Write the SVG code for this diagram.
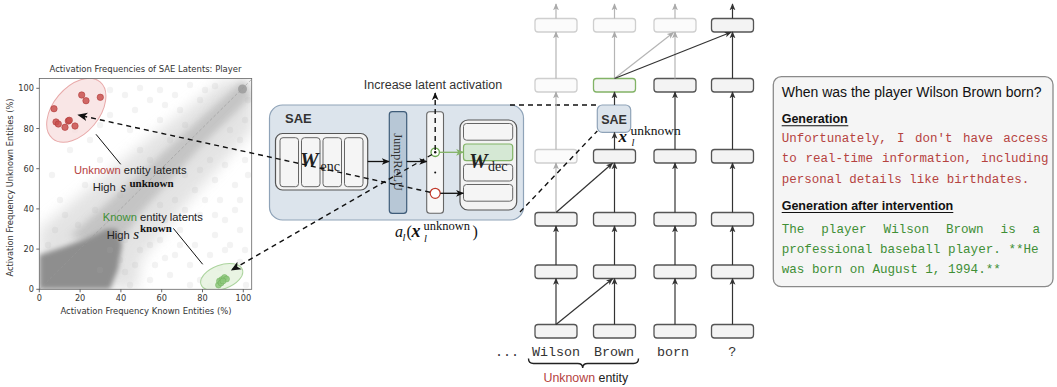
<svg xmlns="http://www.w3.org/2000/svg" width="1057" height="387" viewBox="0 0 1057 387">
<defs>
<style>
.tick{font-family:"DejaVu Sans",sans-serif;font-size:8.2px;fill:#333}
.sans{font-family:"Liberation Sans",Arial,sans-serif}
.serif{font-family:"Liberation Serif","Times New Roman",serif}
.mono{font-family:"Liberation Mono","Courier New",monospace}
.blk{fill:#f3f3f3;stroke:#555;stroke-width:1.3}
.fad{fill:#fbfbfb;stroke:#cfcfcf;stroke-width:1.3}
.a-dark{stroke:#333;stroke-width:1.2;fill:none;marker-end:url(#hd)}
.a-fad{stroke:#b5b5b5;stroke-width:1.2;fill:none;marker-end:url(#hf)}
.a-blk{stroke:#111;stroke-width:1.3;fill:none;marker-end:url(#hb)}
.dash{stroke:#111;stroke-width:1.4;stroke-dasharray:5 4;fill:none}
.pt{fill:#b0b0b0;fill-opacity:.15}
.rdot{fill:#c9504e;fill-opacity:.85;stroke:#b03c3a;stroke-width:.6}
.gdot{fill:#8cc77a;fill-opacity:.85;stroke:#6fb05c;stroke-width:.5}
.red{fill:#b5433f}
.grn{fill:#3f8f35}
</style>
<marker id="hd" viewBox="0 0 10 10" refX="9" refY="5" markerWidth="7" markerHeight="7" orient="auto" markerUnits="userSpaceOnUse"><path d="M0,0.8 L10,5 L0,9.2 L2.6,5 z" fill="#333"/></marker>
<marker id="hf" viewBox="0 0 10 10" refX="9" refY="5" markerWidth="7" markerHeight="7" orient="auto" markerUnits="userSpaceOnUse"><path d="M0,0.8 L10,5 L0,9.2 L2.6,5 z" fill="#aaa"/></marker>
<marker id="hb" viewBox="0 0 10 10" refX="9" refY="5" markerWidth="8" markerHeight="8" orient="auto" markerUnits="userSpaceOnUse"><path d="M0,0.8 L10,5 L0,9.2 L2.6,5 z" fill="#111"/></marker>
<marker id="hg" viewBox="0 0 10 10" refX="9" refY="5" markerWidth="8" markerHeight="8" orient="auto" markerUnits="userSpaceOnUse"><path d="M0,0.8 L10,5 L0,9.2 L2.6,5 z" fill="#82b366"/></marker>
<marker id="hx" viewBox="0 0 10 10" refX="9" refY="5" markerWidth="10" markerHeight="10" orient="auto" markerUnits="userSpaceOnUse"><path d="M0,0.8 L10,5 L0,9.2 L2.6,5 z" fill="#111"/></marker>
<filter id="b8" x="-30%" y="-30%" width="160%" height="160%"><feGaussianBlur stdDeviation="7"/></filter>
<filter id="b3" x="-30%" y="-30%" width="160%" height="160%"><feGaussianBlur stdDeviation="3.5"/></filter>
<filter id="b1" x="-30%" y="-30%" width="160%" height="160%"><feGaussianBlur stdDeviation="2.4"/></filter>
<clipPath id="plotclip"><rect x="39.3" y="78.5" width="212.4" height="210.8"/></clipPath>
</defs>

<rect width="1057" height="387" fill="#fff"/>

<!-- scatter plot of latent activation frequencies -->
<g id="scatter">
  <text class="tick" x="145.5" y="72" text-anchor="middle" textLength="192" lengthAdjust="spacingAndGlyphs">Activation Frequencies of SAE Latents: Player</text>
  <g clip-path="url(#plotclip)">
    <polygon points="39.3,229 100.5,178.8 161.7,128.5 222.9,80.3 253.5,78 253.5,128.5 182.1,208.9 141.3,259.2 137.2,289.3 39.3,289.3" fill="#dadada" opacity=".75" filter="url(#b8)"/>
    <polygon points="70,236 141.3,172.7 202.5,116.4 243.3,80.3 251.5,96.3 202.5,144.6 141.3,212 115,250" fill="#b0b0b0" opacity=".6" filter="url(#b3)"/>
    <polygon points="39.3,289.3 39.3,255 63.8,247 90.3,237 106.6,229 116.8,229 122,245 118,269 110,289.3" fill="#8e8e8e" filter="url(#b1)"/>
    <line x1="39.3" y1="289.3" x2="253" y2="78" stroke="#999" stroke-width=".6" stroke-dasharray="3 2"/>
    <circle cx="242.5" cy="89" r="4.5" fill="#999" opacity=".8"/>
    <g>
      <circle class="pt" cx="60" cy="200" r="3.2"/><circle class="pt" cx="52" cy="175" r="3.2"/><circle class="pt" cx="70" cy="150" r="3.2"/>
      <circle class="pt" cx="90" cy="140" r="3.2"/><circle class="pt" cx="110" cy="115" r="3.2"/><circle class="pt" cx="125" cy="95" r="3.2"/>
      <circle class="pt" cx="140" cy="88" r="3.2"/><circle class="pt" cx="150" cy="100" r="3.2"/><circle class="pt" cx="130" cy="130" r="3.2"/>
      <circle class="pt" cx="100" cy="160" r="3.2"/><circle class="pt" cx="85" cy="185" r="3.2"/><circle class="pt" cx="65" cy="215" r="3.2"/>
      <circle class="pt" cx="115" cy="170" r="3.2"/><circle class="pt" cx="140" cy="150" r="3.2"/><circle class="pt" cx="160" cy="120" r="3.2"/>
      <circle class="pt" cx="175" cy="95" r="3.2"/><circle class="pt" cx="190" cy="85" r="3.2"/><circle class="pt" cx="200" cy="100" r="3.2"/>
      <circle class="pt" cx="170" cy="140" r="3.2"/><circle class="pt" cx="150" cy="160" r="3.2"/><circle class="pt" cx="120" cy="195" r="3.2"/>
      <circle class="pt" cx="95" cy="210" r="3.2"/><circle class="pt" cx="180" cy="110" r="3.2"/><circle class="pt" cx="205" cy="90" r="3.2"/>
      <circle class="pt" cx="215" cy="86" r="3.2"/><circle class="pt" cx="160" cy="90" r="3.2"/><circle class="pt" cx="110" cy="90" r="3.2"/>
      <circle class="pt" cx="75" cy="130" r="3.2"/><circle class="pt" cx="55" cy="230" r="3.2"/><circle class="pt" cx="48" cy="245" r="3.2"/>
      <circle class="pt" cx="135" cy="110" r="3.2"/><circle class="pt" cx="185" cy="125" r="3.2"/><circle class="pt" cx="100" cy="125" r="3.2"/>
      <circle class="pt" cx="145" cy="175" r="3.2"/><circle class="pt" cx="165" cy="105" r="3.2"/><circle class="pt" cx="78" cy="225" r="3.2"/>
      <circle class="pt" cx="100" cy="270" r="3.2"/><circle class="pt" cx="120" cy="260" r="3.2"/><circle class="pt" cx="140" cy="250" r="3.2"/>
      <circle class="pt" cx="160" cy="240" r="3.2"/><circle class="pt" cx="180" cy="230" r="3.2"/><circle class="pt" cx="200" cy="215" r="3.2"/>
      <circle class="pt" cx="220" cy="200" r="3.2"/><circle class="pt" cx="235" cy="185" r="3.2"/><circle class="pt" cx="245" cy="160" r="3.2"/>
      <circle class="pt" cx="150" cy="280" r="3.2"/><circle class="pt" cx="170" cy="275" r="3.2"/><circle class="pt" cx="190" cy="265" r="3.2"/>
      <circle class="pt" cx="210" cy="255" r="3.2"/><circle class="pt" cx="230" cy="245" r="3.2"/><circle class="pt" cx="240" cy="230" r="3.2"/>
      <circle class="pt" cx="130" cy="285" r="3.2"/><circle class="pt" cx="175" cy="255" r="3.2"/><circle class="pt" cx="195" cy="245" r="3.2"/>
      <circle class="pt" cx="215" cy="235" r="3.2"/><circle class="pt" cx="225" cy="220" r="3.2"/><circle class="pt" cx="205" cy="200" r="3.2"/>
      <circle class="pt" cx="185" cy="210" r="3.2"/><circle class="pt" cx="165" cy="220" r="3.2"/><circle class="pt" cx="145" cy="230" r="3.2"/>
      <circle class="pt" cx="125" cy="240" r="3.2"/><circle class="pt" cx="110" cy="250" r="3.2"/><circle class="pt" cx="155" cy="265" r="3.2"/>
      <circle class="pt" cx="200" cy="280" r="3.2"/><circle class="pt" cx="220" cy="268" r="3.2"/><circle class="pt" cx="240" cy="262" r="3.2"/>
      <circle class="pt" cx="245" cy="250" r="3.2"/><circle class="pt" cx="235" cy="210" r="3.2"/><circle class="pt" cx="215" cy="180" r="3.2"/>
      <circle class="pt" cx="225" cy="165" r="3.2"/><circle class="pt" cx="240" cy="140" r="3.2"/><circle class="pt" cx="245" cy="120" r="3.2"/>
      <circle class="pt" cx="230" cy="130" r="3.2"/><circle class="pt" cx="210" cy="160" r="3.2"/><circle class="pt" cx="195" cy="190" r="3.2"/>
      <circle class="pt" cx="175" cy="200" r="3.2"/><circle class="pt" cx="160" cy="205" r="3.2"/><circle class="pt" cx="190" cy="285" r="3.2"/>
      <circle class="pt" cx="210" cy="286" r="3.2"/><circle class="pt" cx="180" cy="245" r="3.2"/><circle class="pt" cx="135" cy="265" r="3.2"/>
      <circle class="pt" cx="246" cy="285" r="3.2"/><circle class="pt" cx="240" cy="200" r="3.2"/><circle class="pt" cx="248" cy="175" r="3.2"/>
      <circle class="pt" cx="248" cy="100" r="3.2"/><circle class="pt" cx="200" cy="170" r="3.2"/><circle class="pt" cx="185" cy="175" r="3.2"/>
      <circle class="pt" cx="170" cy="185" r="3.2"/><circle class="pt" cx="215" cy="215" r="3.2"/><circle class="pt" cx="225" cy="250" r="3.2"/>
      <circle class="pt" cx="165" cy="258" r="3.2"/><circle class="pt" cx="150" cy="245" r="3.2"/><circle class="pt" cx="125" cy="272" r="3.2"/>
    </g>
    <!-- unknown-entity latents -->
    <ellipse cx="76.3" cy="110.2" rx="37" ry="23" transform="rotate(-50 76.3 110.2)" fill="#f7dcdc" fill-opacity=".7" stroke="#e8a9a9" stroke-width="1"/>
    <circle class="rdot" cx="54" cy="108.7" r="3.2"/><circle class="rdot" cx="56" cy="122" r="3.2"/><circle class="rdot" cx="58.3" cy="124" r="3.2"/>
    <circle class="rdot" cx="65" cy="127.3" r="3.2"/><circle class="rdot" cx="68.3" cy="121" r="3.2"/><circle class="rdot" cx="69.3" cy="120.3" r="3.2"/>
    <circle class="rdot" cx="75" cy="126" r="3.2"/><circle class="rdot" cx="81.7" cy="95" r="3.2"/><circle class="rdot" cx="86" cy="100.7" r="3.2"/>
    <circle class="rdot" cx="100.3" cy="97.3" r="3.2"/>
    <!-- known-entity latents -->
    <ellipse cx="221.7" cy="277" rx="22" ry="12" transform="rotate(-20 221.7 277)" fill="#e3f1dc" fill-opacity=".8" stroke="#acd49e" stroke-width="1"/>
    <circle class="gdot" cx="218.5" cy="285" r="3"/><circle class="gdot" cx="219.5" cy="281" r="3"/><circle class="gdot" cx="222" cy="279.5" r="3"/>
    <circle class="gdot" cx="224.5" cy="277.5" r="3"/><circle class="gdot" cx="226.5" cy="279" r="3"/><circle class="gdot" cx="221" cy="283" r="3"/>
    <circle class="gdot" cx="223" cy="281" r="3"/>
  </g>
  <rect x="39.3" y="78.5" width="212.4" height="210.8" fill="none" stroke="#666" stroke-width=".8"/>
  <g stroke="#444" stroke-width=".8">
    <line x1="39.3" y1="289.3" x2="39.3" y2="292.3"/><line x1="80.1" y1="289.3" x2="80.1" y2="292.3"/><line x1="120.9" y1="289.3" x2="120.9" y2="292.3"/>
    <line x1="161.7" y1="289.3" x2="161.7" y2="292.3"/><line x1="202.5" y1="289.3" x2="202.5" y2="292.3"/><line x1="243.3" y1="289.3" x2="243.3" y2="292.3"/>
    <line x1="36.3" y1="289.3" x2="39.3" y2="289.3"/><line x1="36.3" y1="249.1" x2="39.3" y2="249.1"/><line x1="36.3" y1="208.9" x2="39.3" y2="208.9"/>
    <line x1="36.3" y1="168.7" x2="39.3" y2="168.7"/><line x1="36.3" y1="128.5" x2="39.3" y2="128.5"/><line x1="36.3" y1="88.3" x2="39.3" y2="88.3"/>
  </g>
  <g class="tick" text-anchor="middle">
    <text x="39.3" y="301">0</text><text x="80.1" y="301">20</text><text x="120.9" y="301">40</text>
    <text x="161.7" y="301">60</text><text x="202.5" y="301">80</text><text x="243.3" y="301">100</text>
  </g>
  <g class="tick" text-anchor="end">
    <text x="34" y="292.3">0</text><text x="34" y="252.1">20</text><text x="34" y="211.9">40</text>
    <text x="34" y="171.7">60</text><text x="34" y="131.5">80</text><text x="34" y="91.3">100</text>
  </g>
  <text class="tick" x="146" y="313.5" text-anchor="middle" textLength="171" lengthAdjust="spacingAndGlyphs">Activation Frequency Known Entities (%)</text>
  <text class="tick" transform="translate(12.5 187.5) rotate(-90)" text-anchor="middle" textLength="178" lengthAdjust="spacingAndGlyphs">Activation Frequency Unknown Entities (%)</text>

  <!-- annotations -->
  <line x1="96" y1="134.3" x2="120.7" y2="164.3" stroke="#111" stroke-width="1"/>
  <line x1="173.3" y1="228.3" x2="202.7" y2="264.3" stroke="#111" stroke-width="1"/>
  <text class="sans" x="74" y="174.3" font-size="11.2" fill="#222"><tspan class="red">Unknown</tspan> entity latents</text>
  <text class="sans" x="92.7" y="190.8" font-size="11.2" fill="#222">High</text>
  <text class="serif" x="120.5" y="192" font-size="14" font-style="italic" fill="#111">s</text>
  <text class="serif" x="129.5" y="187" font-size="11" font-weight="bold" fill="#111">unknown</text>
  <text class="sans" x="102.7" y="221" font-size="11.2" fill="#222"><tspan class="grn">Known</tspan> entity latents</text>
  <text class="sans" x="106.7" y="239.3" font-size="11.2" fill="#222">High</text>
  <text class="serif" x="133.3" y="239.3" font-size="15" font-style="italic" fill="#111">s</text>
  <text class="serif" x="140" y="232" font-size="11" font-weight="bold" fill="#111">known</text>
</g>

<!-- sparse autoencoder detail -->
<g id="sae">
  <rect x="269.5" y="105" width="254" height="115" rx="13" fill="#dce4ec" stroke="#8fa3b8" stroke-width="1.2"/>
  <text class="sans" x="285" y="122.7" font-size="13" font-weight="bold" fill="#333">SAE</text>
</g>
<g id="w-enc">
  <rect x="275.5" y="133.5" width="92.2" height="56.5" rx="7" fill="#f3f3f3" stroke="#555" stroke-width="1.2"/>
  <rect x="280" y="137.7" width="18.5" height="49" rx="3" fill="#f5f5f5" stroke="#666" stroke-width="1"/>
  <rect x="301.5" y="137.7" width="18.5" height="49" rx="3" fill="#f5f5f5" stroke="#666" stroke-width="1"/>
  <rect x="323" y="137.7" width="18.5" height="49" rx="3" fill="#f5f5f5" stroke="#666" stroke-width="1"/>
  <rect x="344.5" y="137.7" width="18.5" height="49" rx="3" fill="#f5f5f5" stroke="#666" stroke-width="1"/>
  <text class="serif" x="300" y="167" font-size="21" font-weight="bold" font-style="italic" fill="#222">W</text>
  <text class="serif" x="320.5" y="170.5" font-size="14" fill="#222">enc</text>
</g>
<g id="jumprelu">
  <rect x="389.3" y="111.7" width="17.4" height="101.6" rx="3" fill="#b7c7d6" stroke="#3f5c79" stroke-width="1.2"/>
  <text class="serif" transform="translate(394 162) rotate(90)" text-anchor="middle" font-size="12.5" fill="#333">JumpReLU</text>
</g>
<g id="latents">
  <rect x="426.7" y="111.7" width="16.8" height="101.6" rx="3" fill="#f7f7f7" stroke="#666" stroke-width="1.1"/>
  <circle cx="435.2" cy="152.3" r="4.2" fill="#fff" stroke="#6aa84f" stroke-width="1.3"/>
  <circle cx="435.2" cy="152.3" r="1.2" fill="#111"/>
  <circle cx="435.2" cy="172.5" r="1" fill="#111"/>
  <circle cx="435.2" cy="193.3" r="5" fill="#fff" stroke="#c0392b" stroke-width="1.2"/>
</g>
<g id="w-dec">
  <rect x="460" y="120" width="56.7" height="90" rx="8" fill="#f3f3f3" stroke="#555" stroke-width="1.2"/>
  <rect x="463.5" y="123.5" width="49.2" height="16.7" rx="3" fill="#f5f5f5" stroke="#666" stroke-width="1"/>
  <rect x="463.5" y="144" width="49.2" height="16.7" rx="3" fill="#d5e8d4" stroke="#82b366" stroke-width="1.2"/>
  <rect x="463.5" y="164.3" width="49.2" height="16.7" rx="3" fill="#f5f5f5" stroke="#666" stroke-width="1"/>
  <rect x="463.5" y="184.5" width="49.2" height="16.7" rx="3" fill="#f5f5f5" stroke="#666" stroke-width="1"/>
  <text class="serif" x="469" y="168.3" font-size="21" font-weight="bold" font-style="italic" fill="#222">W</text>
  <text class="serif" x="488" y="171" font-size="14" fill="#222">dec</text>
</g>
<g id="latent-label">
  <text class="sans" x="433" y="88.5" text-anchor="middle" font-size="12.5" fill="#333">Increase latent activation</text>
  <text class="serif" fill="#111" font-size="16">
    <tspan x="395" y="237" font-style="italic">a</tspan><tspan x="402.5" y="240.5" font-size="10.5" font-style="italic">l</tspan><tspan x="406.5" y="237">(</tspan><tspan x="411.5" y="237" font-size="18" font-weight="bold" font-style="italic">x</tspan><tspan x="423.5" y="229.5" font-size="12.5">unknown</tspan><tspan x="424" y="241.5" font-size="10.5" font-style="italic">l</tspan><tspan x="472.5" y="237">)</tspan>
  </text>
</g>

<!-- transformer residual stream -->
<g id="layer-1">
  <rect class="fad" x="535" y="18.5" width="42" height="13.5" rx="3"/>
  <rect class="fad" x="593.5" y="18.5" width="42" height="13.5" rx="3"/>
  <rect class="fad" x="654" y="18.5" width="42" height="13.5" rx="3"/>
  <rect class="blk" x="711.5" y="18.5" width="42" height="13.5" rx="3"/>
</g>
<g id="layer-2">
  <rect class="fad" x="535" y="78.5" width="42" height="13.5" rx="3"/>
  <rect x="593.5" y="78.5" width="42" height="13.5" rx="3" fill="#f5f5f5" stroke="#82b366" stroke-width="1.3"/>
  <rect class="blk" x="654" y="78.5" width="42" height="13.5" rx="3"/>
  <rect class="blk" x="711.5" y="78.5" width="42" height="13.5" rx="3"/>
</g>
<g id="sae-small">
  <rect x="597.3" y="105" width="33.4" height="27.3" rx="5" fill="#dce4ec" stroke="#8fa3b8" stroke-width="1.2"/>
  <text class="sans" x="614" y="124.3" text-anchor="middle" font-size="12.5" font-weight="bold" fill="#333">SAE</text>
  <text class="serif" fill="#111">
    <tspan x="618.5" y="141.7" font-size="17" font-weight="bold" font-style="italic">x</tspan><tspan x="630.5" y="135" font-size="13.5">unknown</tspan><tspan x="631.5" y="146" font-size="10.5" font-style="italic">l</tspan>
  </text>
</g>
<g id="layer-3">
  <rect class="fad" x="535" y="149.5" width="42" height="13.5" rx="3"/>
  <rect class="blk" x="593.5" y="149.5" width="42" height="13.5" rx="3"/>
  <rect class="blk" x="654" y="149.5" width="42" height="13.5" rx="3"/>
  <rect class="blk" x="711.5" y="149.5" width="42" height="13.5" rx="3"/>
</g>
<g id="layer-4">
  <rect class="blk" x="535" y="212.5" width="42" height="13.5" rx="3"/>
  <rect class="blk" x="593.5" y="212.5" width="42" height="13.5" rx="3"/>
  <rect class="blk" x="654" y="212.5" width="42" height="13.5" rx="3"/>
  <rect class="blk" x="711.5" y="212.5" width="42" height="13.5" rx="3"/>
</g>
<g id="layer-5">
  <rect class="blk" x="535" y="265" width="42" height="13.5" rx="3"/>
  <rect class="blk" x="593.5" y="265" width="42" height="13.5" rx="3"/>
  <rect class="blk" x="654" y="265" width="42" height="13.5" rx="3"/>
  <rect class="blk" x="711.5" y="265" width="42" height="13.5" rx="3"/>
</g>
<g id="layer-6">
  <rect class="blk" x="535" y="324.5" width="42" height="13.5" rx="3"/>
  <rect class="blk" x="593.5" y="324.5" width="42" height="13.5" rx="3"/>
  <rect class="blk" x="654" y="324.5" width="42" height="13.5" rx="3"/>
  <rect class="blk" x="711.5" y="324.5" width="42" height="13.5" rx="3"/>
</g>
<g id="tokens">
  <text class="mono" font-size="13.4" fill="#333" text-anchor="middle">
    <tspan x="507" y="356">...</tspan><tspan x="556" y="356">Wilson</tspan><tspan x="614" y="356">Brown</tspan><tspan x="673" y="356">born</tspan><tspan x="732.3" y="356">?</tspan>
  </text>
  <path d="M528.5,358.5 Q528.5,363.5 533.5,363.5 L577.7,363.5 Q582.7,363.5 582.7,368 Q582.7,363.5 587.7,363.5 L633.5,363.5 Q638.5,363.5 638.5,358.5" fill="none" stroke="#222" stroke-width="1.4"/>
  <text class="sans" x="585.8" y="381.5" text-anchor="middle" font-size="12.4" fill="#222"><tspan class="red">Unknown</tspan> entity</text>
</g>

<!-- generations panel -->
<g id="generations">
  <rect x="773.3" y="76.7" width="279.7" height="210" rx="8" fill="#f5f5f5" stroke="#8a8a8a" stroke-width="1.3"/>
  <text class="sans" x="781.7" y="97.3" font-size="14" fill="#111">When was the player Wilson Brown born?</text>
  <text class="sans" x="781.7" y="123.3" font-size="12.5" font-weight="bold" fill="#111">Generation</text>
  <line x1="781.7" y1="125.8" x2="848.3" y2="125.8" stroke="#111" stroke-width="1.1"/>
  <text class="mono red" font-size="12.5">
    <tspan x="781.7" y="141.7">Unfortunately,</tspan><tspan x="897.1" y="141.7">I</tspan><tspan x="915" y="141.7">don't</tspan><tspan x="962.9" y="141.7">have</tspan><tspan x="1003.3" y="141.7">access</tspan>
    <tspan x="781.7" y="162.3">to</tspan><tspan x="805.6" y="162.3">real-time</tspan><tspan x="882" y="162.3">information,</tspan><tspan x="980.9" y="162.3">including</tspan>
    <tspan x="781.7" y="183.3">personal details like birthdates.</tspan>
  </text>
  <text class="sans" x="781.7" y="210" font-size="12.5" font-weight="bold" fill="#111">Generation after intervention</text>
  <line x1="781.7" y1="212.5" x2="953.3" y2="212.5" stroke="#111" stroke-width="1.1"/>
  <text class="mono grn" font-size="12.6">
    <tspan x="781.7" y="232.5">The</tspan><tspan x="821.3" y="232.5">player</tspan><tspan x="883.6" y="232.5">Wilson</tspan><tspan x="945.9" y="232.5">Brown</tspan><tspan x="1000.6" y="232.5">is</tspan><tspan x="1032.6" y="232.5">a</tspan>
    <tspan x="781.7" y="253.3">professional baseball player. **He</tspan>
    <tspan x="781.7" y="273.3">was born on August 1, 1994.**</tspan>
  </text>
</g>

<!-- connectors -->
<g id="connectors">
  <!-- inside the SAE -->
  <line class="a-blk" x1="367.7" y1="161.5" x2="389" y2="161.5"/>
  <line class="a-blk" x1="406.7" y1="161.5" x2="426.5" y2="161.5"/>
  <line x1="439.5" y1="152.3" x2="463.3" y2="152.3" stroke="#82b366" stroke-width="1.3" marker-end="url(#hg)"/>
  <line class="a-blk" x1="440.3" y1="193.3" x2="463.3" y2="193.3"/>
  <line class="dash" x1="435.2" y1="150" x2="435.2" y2="93" marker-end="url(#hb)"/>

  <!-- latents back to the scatter clusters -->
  <line class="dash" x1="430" y1="192.2" x2="78.3" y2="115" marker-end="url(#hx)"/>
  <line class="dash" x1="432" y1="154.5" x2="231.7" y2="270" marker-end="url(#hx)"/>

  <!-- zoom lines to the small SAE -->
  <line class="dash" x1="510" y1="105" x2="597.3" y2="105"/>
  <line class="dash" x1="520" y1="212" x2="597.3" y2="131"/>

  <!-- outputs above the top layer -->
  <line class="a-fad" x1="556" y1="18.5" x2="556" y2="4"/>
  <line class="a-fad" x1="614.5" y1="18.5" x2="614.5" y2="4"/>
  <line class="a-fad" x1="675" y1="18.5" x2="675" y2="4"/>
  <line class="a-dark" x1="732.5" y1="18.5" x2="732.5" y2="4"/>

  <!-- layer 2 to layer 1 -->
  <line class="a-fad" x1="556" y1="78.5" x2="556" y2="32"/>
  <line class="a-fad" x1="614.5" y1="78.5" x2="614.5" y2="32"/>
  <line class="a-fad" x1="675" y1="78.5" x2="675" y2="32"/>
  <line class="a-dark" x1="732.5" y1="78.5" x2="732.5" y2="32"/>
  <line class="a-fad" x1="614.5" y1="78.5" x2="673.5" y2="32.5"/>
  <line class="a-dark" x1="614.5" y1="78.5" x2="731" y2="32.3"/>

  <!-- layer 3 to layer 2 -->
  <line class="a-fad" x1="556" y1="149.5" x2="556" y2="92"/>
  <line class="a-dark" x1="614.5" y1="149.5" x2="614.5" y2="132.5"/>
  <line class="a-dark" x1="614.5" y1="105" x2="614.5" y2="92"/>
  <line class="a-dark" x1="675" y1="149.5" x2="675" y2="92"/>
  <line class="a-dark" x1="732.5" y1="149.5" x2="732.5" y2="92"/>

  <!-- layer 4 to layer 3 -->
  <line class="a-fad" x1="556" y1="212.5" x2="556" y2="163"/>
  <line class="a-dark" x1="614.5" y1="212.5" x2="614.5" y2="163"/>
  <line class="a-dark" x1="675" y1="212.5" x2="675" y2="163"/>
  <line class="a-dark" x1="732.5" y1="212.5" x2="732.5" y2="163"/>
  <line class="a-dark" x1="556" y1="212.5" x2="612.5" y2="163.3"/>

  <!-- layer 5 to layer 4 -->
  <line class="a-dark" x1="556" y1="265" x2="556" y2="226"/>
  <line class="a-dark" x1="614.5" y1="265" x2="614.5" y2="226"/>
  <line class="a-dark" x1="675" y1="265" x2="675" y2="226"/>
  <line class="a-dark" x1="732.5" y1="265" x2="732.5" y2="226"/>

  <!-- layer 6 to layer 5 -->
  <line class="a-dark" x1="556" y1="324.5" x2="556" y2="278.5"/>
  <line class="a-dark" x1="614.5" y1="324.5" x2="614.5" y2="278.5"/>
  <line class="a-dark" x1="675" y1="324.5" x2="675" y2="278.5"/>
  <line class="a-dark" x1="732.5" y1="324.5" x2="732.5" y2="278.5"/>
  <line class="a-dark" x1="556" y1="324.5" x2="612.5" y2="278.8"/>
</g>
</svg>
